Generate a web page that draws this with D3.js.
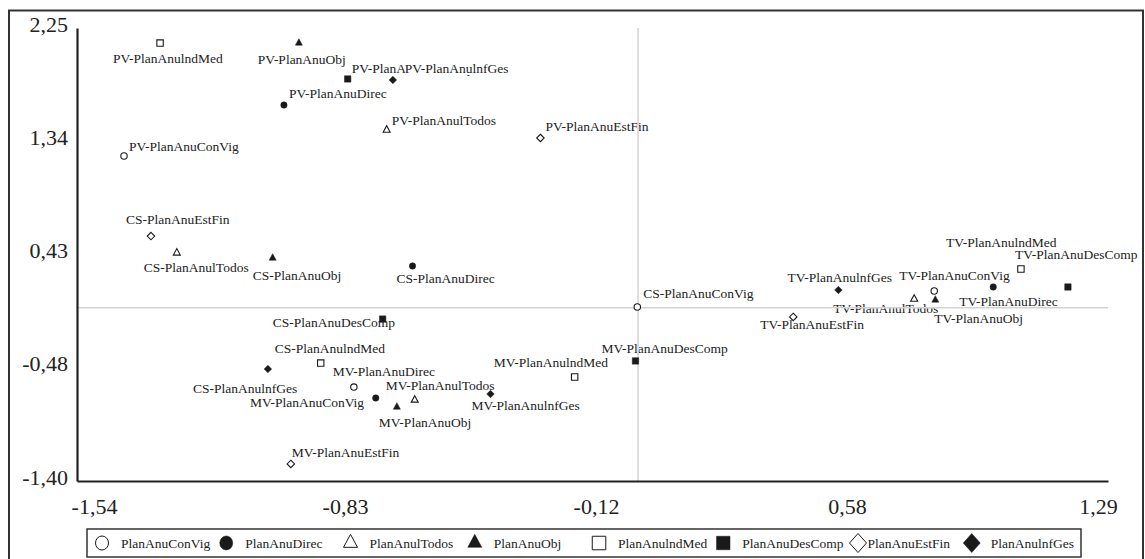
<!DOCTYPE html>
<html><head><meta charset="utf-8">
<script src="https://cdn.jsdelivr.net/npm/d3@7"></script>
<style>
body{margin:0;background:#fff}
svg{display:block}
text{font-family:"Liberation Serif","Times New Roman",serif;fill:#222}
</style>
</head><body>
<svg id="chart" width="1145" height="559"></svg>
<script>
// ---- data ----
const groups = ["PV","CS","MV","TV"];
const series = ["PlanAnuConVig","PlanAnuDirec","PlanAnulTodos","PlanAnuObj","PlanAnulndMed","PlanAnuDesComp","PlanAnuEstFin","PlanAnulnfGes"];
const symbolKinds = ["circle","circle","triangle","triangle","square","square","diamond","diamond"];
const symbolFilled = [false,true,false,true,false,true,false,true];

const pvX = [-1.411,-0.972,-0.690,-0.931,-1.312,-0.797,-0.268,-0.673];
const pvY = [ 1.220, 1.630, 1.429, 2.129, 2.129, 1.840, 1.365, 1.832];
const csX = [-0.002,-0.619,-1.266,-1.003,-0.871,-0.701,-1.337,-1.016];
const csY = [ 0.005, 0.335, 0.440, 0.399,-0.446,-0.092, 0.576,-0.494];
const mvX = [-0.780,-0.720,-0.613,-0.662,-0.174,-0.007,-0.953,-0.405];
const mvY = [-0.639,-0.727,-0.743,-0.800,-0.558,-0.429,-1.258,-0.695];
const tvX = [ 0.813, 0.975, 0.758, 0.816, 1.051, 1.180, 0.426, 0.550];
const tvY = [ 0.134, 0.166, 0.069, 0.061, 0.311, 0.166,-0.075, 0.142];

const xTickLabels = ["-1,54","-0,83","-0,12","0,58","1,29"];
const yTickLabels = ["-1,40","-0,48","0,43","1,34","2,25"];
const xDomain = [-1.54, 1.29];
const yDomain = [-1.395, 2.25];

// ---- layout (label placement offsets in px, relative to the point) ----
const pvLabelOffset = [[5,-5],[5,-7],[5,-5],[-41,21],[-47,20],[4,-6],[5,-7],[12,-7]];
const csLabelOffset = [[6,-9],[-16,17],[-33,19],[-20,22],[-46,-10],[-110,8],[-25,-12],[-75,24]];
const mvLabelOffset = [[-104,20],[-43,-22],[-29,-10],[-18,20],[-81,-10],[-34,-8],[1,-7],[-19,16]];
const tvLabelOffset = [[-35,-11],[-34,19],[-81,14],[-1,23],[-75,-22],[-53,-28],[-33,12],[-51,-8]];

const groupX = [pvX,csX,mvX,tvX];
const groupY = [pvY,csY,mvY,tvY];
const groupOff = [pvLabelOffset,csLabelOffset,mvLabelOffset,tvLabelOffset];

const points = [];
groups.forEach((g,gi)=>{
  series.forEach((s,si)=>{
    points.push({label:g+"-"+s, x:groupX[gi][si], y:groupY[gi][si], si, off:groupOff[gi][si]});
  });
});

// ---- chart ----
const svg = d3.select("#chart");
const plot = {left:77, right:1108, top:28, bottom:481};
const x = d3.scaleLinear().domain(xDomain).range([plot.left, plot.right]);
const y = d3.scaleLinear().domain(yDomain).range([plot.bottom, plot.top]);
const xTickVals = d3.range(5).map(i=>xDomain[0]+(xDomain[1]-xDomain[0])*i/4);
const yTickVals = d3.range(5).map(i=>yDomain[0]+(yDomain[1]-yDomain[0])*i/4);

// outer frame
svg.append("rect").attr("x",9).attr("y",10.5).attr("width",1134).attr("height",620)
  .attr("fill","none").attr("stroke","#333").attr("stroke-width",2);

function symbolSize(kind, big){
  if(kind==="circle") return big?[13,14]:[6.4,6.4];
  if(kind==="triangle") return big?[14,13]:[7,6.5];
  if(kind==="square") return big?[13.5,13.5]:[6.4,6.4];
  return big?[17,19]:[7.5,7.5];
}
function symbolPath(kind, big){
  const [w,h] = symbolSize(kind,big);
  if(kind==="circle"){ const rx=w/2, ry=h/2; return `M${-rx},0A${rx},${ry} 0 1,0 ${rx},0A${rx},${ry} 0 1,0 ${-rx},0Z`; }
  if(kind==="triangle"){ return `M0,${-h*2/3}L${w/2},${h/3}L${-w/2},${h/3}Z`; }
  if(kind==="square"){ return `M${-w/2},${-h/2}H${w/2}V${h/2}H${-w/2}Z`; }
  return `M0,${-h/2}L${w/2},0L0,${h/2}L${-w/2},0Z`;
}

// labels
const labelG = svg.append("g");
const placed = [];
points.forEach(p=>{
  const px = x(p.x)+p.off[0], py = y(p.y)+p.off[1];
  const g = labelG.append("g");
  const t = g.append("text").attr("x",px).attr("y",py).attr("font-size","13.5px").text(p.label);
  const bb = t.node().getBBox();
  const overl = placed.some(b=>{
    const ox = Math.min(b.x+b.width, bb.x+bb.width) - Math.max(b.x, bb.x);
    const oy = Math.min(b.y+b.height, bb.y+bb.height) - Math.max(b.y, bb.y);
    return ox>0 && oy > 0.6*bb.height;
  });
  if(overl){
    g.insert("rect","text").attr("x",bb.x).attr("y",py-10).attr("width",bb.width).attr("height",12).attr("fill","#fff");
  }
  placed.push(bb);
});

// reference lines at zero
svg.append("line").attr("x1",x(0)).attr("x2",x(0)).attr("y1",plot.top).attr("y2",plot.bottom)
  .attr("stroke","#d3d3d3").attr("stroke-width",1.5);
svg.append("line").attr("x1",plot.left).attr("x2",plot.right).attr("y1",y(0)).attr("y2",y(0))
  .attr("stroke","#d3d3d3").attr("stroke-width",1.5);

// points
svg.append("g").selectAll("path").data(points).join("path")
  .attr("transform",d=>`translate(${x(d.x)},${y(d.y)})`)
  .attr("d",d=>symbolPath(symbolKinds[d.si], false))
  .attr("fill",d=>symbolFilled[d.si]?"#1a1a1a":"#fff")
  .attr("stroke","#1a1a1a").attr("stroke-width",d=>symbolFilled[d.si]?0.5:1.1);

// axes
const yAxis = d3.axisLeft(y).tickValues(yTickVals).tickFormat((d,i)=>yTickLabels[i]).tickSize(0).tickSizeOuter(0).tickPadding(9);
const gy = svg.append("g").attr("transform",`translate(${plot.left},0)`).call(yAxis);
gy.select(".domain").attr("stroke","#222").attr("stroke-width",2.2);
gy.selectAll("text").attr("font-size","22px").attr("dy","3px").attr("fill","#222")
  .style("font-family",'"Liberation Serif",serif');

const xAxis = d3.axisBottom(x).tickValues(xTickVals).tickFormat((d,i)=>xTickLabels[i]).tickSize(0).tickSizeOuter(0);
const gx = svg.append("g").attr("transform",`translate(0,${plot.bottom})`).call(xAxis);
gx.select(".domain").attr("stroke","#222").attr("stroke-width",2.2);
gx.selectAll("text").attr("font-size","22px").attr("y",33).attr("dy",0)
  .attr("dx",(d,i)=>17-27*i/4).attr("fill","#222")
  .style("font-family",'"Liberation Serif",serif');

// legend (columns; a symbol is pushed right if the previous text would touch it)
const leg = {left:87, top:529, width:994, height:28};
svg.append("rect").attr("x",leg.left).attr("y",leg.top).attr("width",leg.width).attr("height",leg.height)
  .attr("fill","#fff").attr("stroke","#333").attr("stroke-width",1.5);
const colW = leg.width/series.length;
const legG = svg.append("g");
let prevEnd = leg.left;
series.forEach((s,i)=>{
  const hw = symbolSize(symbolKinds[i], true)[0]/2;
  const col = leg.left + colW*i;
  const sx = Math.max(col+15, prevEnd+6+hw);
  const tx = Math.max(col+34, sx+hw+1);
  const cy = leg.top+14;
  legG.append("path").attr("transform",`translate(${sx},${cy})`)
    .attr("d",symbolPath(symbolKinds[i], true))
    .attr("fill",symbolFilled[i]?"#1a1a1a":"#fff")
    .attr("stroke","#1a1a1a").attr("stroke-width",symbolFilled[i]?0.5:1);
  const t = legG.append("text").attr("x",tx).attr("y",cy+5).attr("font-size","13.5px").text(s);
  prevEnd = tx + t.node().getComputedTextLength();
});
</script>
</body></html>
